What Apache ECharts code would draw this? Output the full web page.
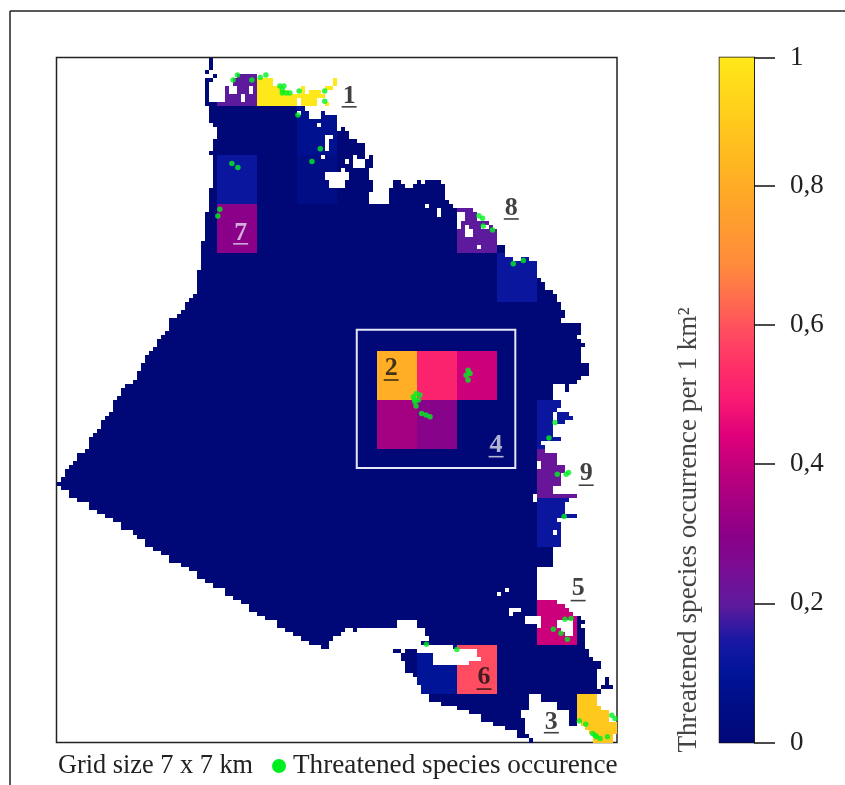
<!DOCTYPE html>
<html>
<head>
<meta charset="utf-8">
<style>html,body{margin:0;padding:0;background:#fff}#c{width:845px;height:785px;filter:blur(0.5px)}</style>
<script src="https://cdn.jsdelivr.net/npm/echarts@6/dist/echarts.min.js"></script>
</head>
<body>
<div id="c"></div>
<script>
// Density per 1 km2 in the 14 x 14 coarse (7 km) grid, top row first
const cellDensity = [
 [0,0,0,0,0.2,1,1,0,0,0,0,0,0,0],
 [0,0,0,0,0,0,0.08,0,0,0,0,0,0,0],
 [0,0,0,0,0.12,0,0.05,0,0,0,0,0,0,0],
 [0,0,0,0,0.3,0,0,0,0,0,0.2,0,0,0],
 [0,0,0,0,0,0,0,0,0,0,0,0.12,0,0],
 [0,0,0,0,0,0,0,0,0,0,0,0,0,0],
 [0,0,0,0,0,0,0,0,0.82,0.52,0.42,0,0,0],
 [0,0,0,0,0,0,0,0,0.35,0.29,0,0,0.12,0],
 [0,0,0,0,0,0,0,0,0,0,0,0,0.22,0],
 [0,0,0,0,0,0,0,0,0,0,0,0,0.12,0],
 [0,0,0,0,0,0,0,0,0,0,0,0,0,0],
 [0,0,0,0,0,0,0,0,0,0,0,0,0.42,0],
 [0,0,0,0,0,0,0,0,0,0.1,0.6,0,0,0],
 [0,0,0,0,0,0,0,0,0,0,0,0,0,0.9]
];
// Land cells of the fine grid (140 x 168): start-end column spans for each row
const landRows = [
"38-39","38-39","38-39","37-38","39-40 45-50","37-39 44-54 69-70","37-38 44-54 69-70","37-38 42-43 45-48 49-56 61-62 67-69",
"37-38 42-43 45-48 49-58 61-62 63-66","37-38 42-46 47-67","37-38 42-46 47-60 61-65","37-60 61-65 67-68",
"38-62","38-60 61-63 66-67","38-63 66-70","38-70","39-65 66-70","40-70 71-72","40-73","40-67 69-73",
"39-67 68-75","39-67 68-77","39-67 68-77","38-77","39-66 67-74 75-77 78-79","39-72 73-74 77-79","39-74 77-79","39-71 72-78",
"39-67 73-78","39-67 73-78","39-68 72-79 84-86 90-91 92-96","39-68 72-79 84-87 89-97","38-79 83-97","38-78 83-97","38-78 83-97","38-78 83-98",
"38-92 93-99","38-95 96-104","37-95 96-100 102-105","37-100 102-105","37-100 101-108","37-100 101-102 103-106 108-109","37-102 104-110","37-102 104-110",
"37-110","36-110","36-105 106-112","36-112","36-112","36-114 116-118","36-120","36-120",
"35-120","35-120","35-121","35-122","35-122","35-124","34-125","33-125",
"32-126","32-126","31-127","30-127","28-126","28-131","28-131","27-131",
"26-130","25-131","25-132","24-131","23-131","22-131","22-131","21-133",
"21-133","20-133","20-131","19-130","17-124 127-128","16-124 127-128","16-124","15-124",
"14-126","14-126","14-125","13-124 125-128","12-124 125-129","11-124 125-127","11-124","10-124",
"9-124","8-126","8-121","8-122","7-122","5-125","5-125","4-120 121-125",
"3-120 121-127","2-127","2-126","1-126","0-126","1-124","3-124","3-119 120-130",
"5-119 120-128","8-127","8-127","10-127","12-130","14-125","16-126","16-126",
"19-124 125-126","20-126","22-126","22-126","24-124","26-124","28-124","28-124",
"31-124","33-120","35-120","35-120","37-120","39-120","42-112 113-120","42-110 111-120",
"44-120","46-125","48-127","48-113 116-128","50-113 114-129","52-117 121-131","55-85 90-117 121-125 129-132","55-85 90-120 121-125 129-131",
"57-72 74-75 92-126 129-132","59-71 92-127 129-132","61-69 93-132","63-68 91-132","66-68 99-132","84-86 87-90 105-133","86-94 105-133","86-94 106-134",
"87-94 103-136","87-136","87-135","89-135","90-135 137-138","90-135 137-138","91-135 136-139","91-136",
"93-118 121-135","93-118 121-135","96-118 125-135","100-118 125-136","103-116 128-138","106-116 128-138","106-117 128-138","109-117 128-130 131-140",
"112-117 132-140","115-117 133-140","115-118 134-139","118-119 134-139"
];
// Threatened species records, in fine-grid columns and rows
const speciesCol = [44.1,45.2,48.8,50.9,52.3,55.8,56.8,56.4,57.4,56.4,58.3,60.6,67,67,60.3,65.9,63.8,43.8,45.3,40.8,40.3,105.5,106.4,106.6,108.9,114.1,116.6,102.8,102.3,102.8,103.3,89.9,89.1,90.8,89.5,89.8,90.4,89.4,91.2,92.3,93.3,124.5,123,125.1,127.3,127.9,126.8,92.4,100,127,128.5,124.1,126,127.6,130.6,132.2,138.7,139.5,133.9,134.9,135.8,137.6,134.5];
const speciesRow = [5.5,4.3,5.5,4.9,4.3,7,7,8,8.7,8.7,8.7,8.2,8.2,10.7,14.1,22.4,25.5,26,27,37.2,38.9,38.8,39.4,41.3,42.3,50.6,49.8,76.7,77.9,79.1,77.5,82.4,83.2,82.8,84.4,85.5,84,83.9,87.3,87.7,88.1,89.5,93.3,102.2,102.2,101.8,112.6,143.9,145.2,137.8,137.6,140.2,141.2,142.7,162.7,163.5,161.3,162.1,165.8,166.6,167,166.6,166.2];
const siteNames = ["1","8","2","4","7","9","5","6","3"];
const siteCol = [73.1,113.6,83.6,109.8,46,132.3,130.3,106.8,123.6];
const siteRow = [9.4,36.9,76.3,95,43,102,130.1,152,163];
const siteRuleRow = [12.1,39.6,79.1,97.9,45.7,104.9,133.2,154.9,165.6];
const siteInk = ["#111","#111","#111","#dfe0ee","#e6d8ee","#111","#111","#111","#111"];
const scaleColors = ["#000878","#000d85","#001498","#1a18a4","#5e1a9c","#780e94","#8a0088","#a40082","#c0007c","#e0007a","#f81a72","#ff3068","#ff4c60","#ff6e4c","#ff8c3c","#ff9a30","#ffa828","#ffb820","#ffc81c","#ffd81a","#ffe81a"];
// The top tick of the reference scale, labelled 1, sits just short of a full 0,2 step
const scaleTop = 0.984;
const COLS = 140, ROWS = 168, FONT = '"Liberation Serif", serif';

const cells = [];
landRows.forEach((spans, r) => spans.split(" ").forEach(s => {
  const [a, b] = s.split("-").map(Number);
  for (let c = a; c < b; c++) cells.push([c, r, cellDensity[Math.floor(r / 12)][Math.floor(c / 10)]]);
}));

const chart = echarts.init(document.getElementById("c"), null, {renderer: "canvas"});
chart.setOption({
  animation: false,
  backgroundColor: "#fff",
  grid: [
    {left: 56.5, top: 57.5, width: 560.5, height: 685, show: true, borderColor: "#222", borderWidth: 1.5, backgroundColor: "#fff"},
    {left: 719.5, top: 57.5, width: 34.5, height: 685, show: true, borderColor: "#111", borderWidth: 1.5}
  ],
  xAxis: [
    {type: "value", gridIndex: 0, min: 0, max: COLS, show: false},
    {type: "category", gridIndex: 1, data: ["scale"], show: false}
  ],
  yAxis: [
    {type: "value", gridIndex: 0, min: 0, max: ROWS, inverse: true, show: false},
    {type: "value", gridIndex: 1, min: 0, max: scaleTop, interval: 0.2, position: "right",
     axisLine: {show: true, lineStyle: {color: "#111", width: 1.5}},
     axisTick: {show: true, length: 21, lineStyle: {color: "#111", width: 1.5}},
     splitLine: {show: false},
     axisLabel: {color: "#222", fontFamily: FONT, fontSize: 27, margin: 36, showMaxLabel: true,
       formatter: v => v > 0.9 ? "1" : String(+v.toFixed(1)).replace(".", ",")}}
  ],
  visualMap: {show: false, seriesIndex: 0, min: 0, max: 1, dimension: 2, inRange: {color: scaleColors}},
  series: [
    {type: "custom", xAxisIndex: 0, yAxisIndex: 0, data: cells, progressive: 0, silent: true, z: 2,
     encode: {x: 0, y: 1},
     renderItem: (params, api) => {
       const p = api.coord([api.value(0), api.value(1)]);
       const q = api.coord([api.value(0) + 1, api.value(1) + 1]);
       const x = Math.round(p[0]), y = Math.round(p[1]);
       return {type: "rect", shape: {x, y, width: Math.round(q[0]) - x, height: Math.round(q[1]) - y},
         style: {fill: api.visual("color")}};
     }},
    {type: "scatter", xAxisIndex: 0, yAxisIndex: 0, symbol: "circle", symbolSize: 5.5, silent: true, z: 5,
     itemStyle: {color: "#00f020"},
     data: speciesCol.map((c, i) => [c, speciesRow[i]]),
     markArea: {silent: true, z: 4, itemStyle: {color: "rgba(0,0,0,0)", borderColor: "#e4e6f4", borderWidth: 2},
       data: [[{coord: [75, 66.8]}, {coord: [114.6, 100.7]}]]}},
    {type: "scatter", xAxisIndex: 0, yAxisIndex: 0, symbol: "rect", symbolSize: [15, 1.6], silent: true, z: 6,
     data: siteCol.map((c, i) => ({value: [c, siteRuleRow[i]], itemStyle: {color: siteInk[i]}}))},
    {type: "scatter", xAxisIndex: 0, yAxisIndex: 0, symbolSize: 0, silent: true, z: 6,
     data: siteCol.map((c, i) => ({value: [c, siteRow[i]], name: siteNames[i],
       label: {show: true, position: "inside", formatter: siteNames[i], color: siteInk[i],
         fontFamily: FONT, fontSize: 26, fontWeight: "bold"}}))},
    {type: "bar", xAxisIndex: 1, yAxisIndex: 1, barWidth: "100%", silent: true,
     data: [scaleTop],
     itemStyle: {color: {type: "linear", x: 0, y: 1, x2: 0, y2: 0,
       colorStops: scaleColors.map((c, i) => ({offset: i / (scaleColors.length - 1), color: c}))}}}
  ],
  graphic: [
    {type: "line", shape: {x1: 10, y1: 11, x2: 845, y2: 11}, style: {stroke: "#222", lineWidth: 1.5}},
    {type: "line", shape: {x1: 10, y1: 11, x2: 10, y2: 785}, style: {stroke: "#222", lineWidth: 1.5}},
    {type: "text", x: 58, y: 766, style: {text: "Grid size 7 x 7 km", fill: "#222", font: '26.3px ' + FONT, textVerticalAlign: "middle"}},
    {type: "circle", shape: {cx: 279, cy: 766, r: 7}, style: {fill: "#00ee20"}},
    {type: "text", x: 293, y: 766, style: {text: "Threatened species occurence", fill: "#222", font: '27.2px ' + FONT, textVerticalAlign: "middle"}},
    {type: "text", x: 689, y: 530, rotation: Math.PI / 2, style: {text: "Threatened species occurrence per 1 km²", fill: "#444", font: '27.2px ' + FONT, textAlign: "center", textVerticalAlign: "middle"}}
  ]
});
</script>
</body>
</html>
